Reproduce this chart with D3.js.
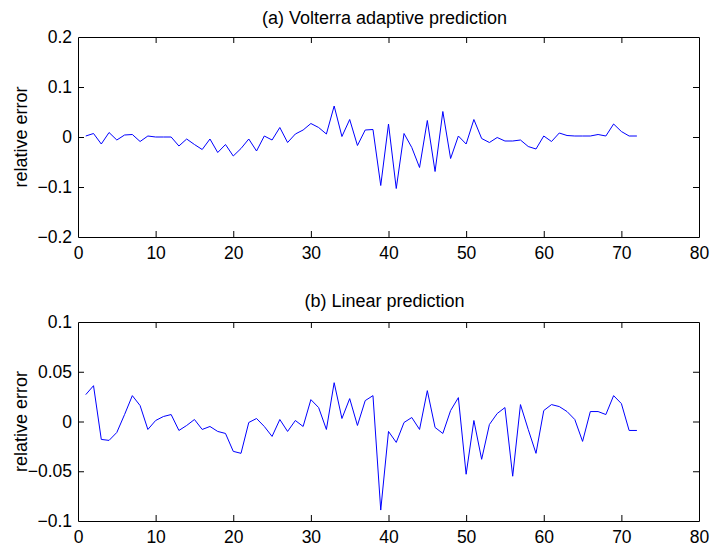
<!DOCTYPE html>
<html>
<head>
<meta charset="utf-8">
<script src="https://cdn.jsdelivr.net/npm/d3@7"></script>
<style>
  html, body { margin: 0; padding: 0; background: #fff; }
  svg { display: block; }
  text { font-family: "Liberation Sans", Arial, sans-serif; fill: #000; }
</style>
</head>
<body>
<svg id="chart" width="711" height="549"></svg>
<script>
// ---- Data ----
const steps = d3.range(1, 73);
const volterraError = [
  0.002, 0.007, -0.014, 0.009, -0.006, 0.004, 0.005, -0.009, 0.002, 0.000,
  0.000, 0.000, -0.018, -0.004, -0.015, -0.025, -0.004, -0.031, -0.015, -0.038,
  -0.023, -0.004, -0.028, 0.002, -0.006, 0.019, -0.011, 0.006, 0.014, 0.027,
  0.019, 0.006, 0.062, 0.001, 0.035, -0.017, 0.014, 0.015, -0.097, 0.026,
  -0.103, 0.007, -0.021, -0.061, 0.033, -0.069, 0.051, -0.043, 0.002, -0.014,
  0.035, -0.003, -0.011, -0.001, -0.008, -0.008, -0.006, -0.019, -0.024, 0.002,
  -0.009, 0.008, 0.003, 0.002, 0.002, 0.002, 0.005, 0.002, 0.026, 0.011,
  0.002, 0.002
];
const linearError = [
  0.027, 0.036, -0.018, -0.019, -0.011, 0.007, 0.026, 0.016, -0.008, 0.001,
  0.005, 0.007, -0.009, -0.004, 0.002, -0.008, -0.005, -0.010, -0.012, -0.030,
  -0.032, -0.001, 0.003, -0.005, -0.015, 0.002, -0.010, 0.001, -0.005, 0.022,
  0.014, -0.008, 0.039, 0.003, 0.023, -0.004, 0.021, 0.026, -0.089, -0.010,
  -0.021, -0.001, 0.004, -0.008, 0.031, -0.006, -0.012, 0.011, 0.024, -0.053,
  0.001, -0.038, -0.003, 0.008, 0.014, -0.055, 0.017, -0.008, -0.032, 0.011,
  0.017, 0.015, 0.010, 0.002, -0.020, 0.010, 0.010, 0.007, 0.026, 0.018,
  -0.009, -0.009
];
const xTicks = [0, 10, 20, 30, 40, 50, 60, 70, 80];
const yTicksA = [-0.2, -0.1, 0, 0.1, 0.2];
const yTicksB = [-0.1, -0.05, 0, 0.05, 0.1];
const titles = ["(a) Volterra adaptive prediction", "(b) Linear prediction"];
const yLabel = "relative error";

// ---- Layout ----
const svg = d3.select("#chart");
const left = 78, right = 699;
const panels = [
  { top: 37, bottom: 237, values: volterraError, yDomain: [-0.2, 0.2], yTicks: yTicksA, title: titles[0], titleY: 24 },
  { top: 322, bottom: 521, values: linearError, yDomain: [-0.1, 0.1], yTicks: yTicksB, title: titles[1], titleY: 307 }
];
const tick = 6;
const fontSize = 17.5;
const titleSize = 18;

panels.forEach(p => {
  const x = d3.scaleLinear().domain([0, 80]).range([left, right]);
  const y = d3.scaleLinear().domain(p.yDomain).range([p.bottom, p.top]);
  const g = svg.append("g");

  // line
  const line = d3.line().x((d, i) => x(steps[i])).y(d => y(d));
  g.append("path")
    .datum(p.values)
    .attr("d", line)
    .attr("fill", "none")
    .attr("stroke", "#0000ff")
    .attr("stroke-width", 1);

  // bottom axis
  const bx = g.append("g").attr("transform", `translate(0,${p.bottom})`)
    .call(d3.axisBottom(x).tickValues(xTicks).tickSizeInner(-tick).tickSizeOuter(0).tickPadding(10));
  // top axis
  const tx = g.append("g").attr("transform", `translate(0,${p.top})`)
    .call(d3.axisTop(x).tickValues(xTicks).tickSizeInner(-tick).tickSizeOuter(0).tickFormat(""));
  // left axis
  const ly = g.append("g").attr("transform", `translate(${left},0)`)
    .call(d3.axisLeft(y).tickValues(p.yTicks).tickSizeInner(-tick).tickSizeOuter(0)
      .tickFormat(d => d3.format("")(+d.toFixed(2))).tickPadding(6));
  // right axis
  const ry = g.append("g").attr("transform", `translate(${right},0)`)
    .call(d3.axisRight(y).tickValues(p.yTicks).tickSizeInner(-tick).tickSizeOuter(0).tickFormat(""));

  [bx, tx, ly, ry].forEach(a => {
    a.selectAll("path.domain").attr("stroke", "#000").attr("stroke-width", 1);
    a.selectAll("line").attr("stroke", "#000").attr("stroke-width", 1);
    a.selectAll("text").attr("font-size", fontSize).attr("fill", "#000")
      .attr("font-family", "'Liberation Sans', Arial, sans-serif");
  });
  // remove end ticks that coincide with the box corners
  [bx, tx].forEach(a => a.selectAll(".tick line").filter(d => d === 0 || d === 80).remove());
  [ly, ry].forEach(a => a.selectAll(".tick line").filter(d => d === p.yDomain[0] || d === p.yDomain[1]).remove());

  // title
  g.append("text")
    .attr("x", (left + right) / 2 - 4)
    .attr("y", p.titleY)
    .attr("text-anchor", "middle")
    .attr("font-size", titleSize)
    .text(p.title);

  // y label
  g.append("text")
    .attr("transform", `translate(27,${(p.top + p.bottom) / 2}) rotate(-90)`)
    .attr("text-anchor", "middle")
    .attr("font-size", titleSize)
    .text(yLabel);
});
</script>
</body>
</html>
